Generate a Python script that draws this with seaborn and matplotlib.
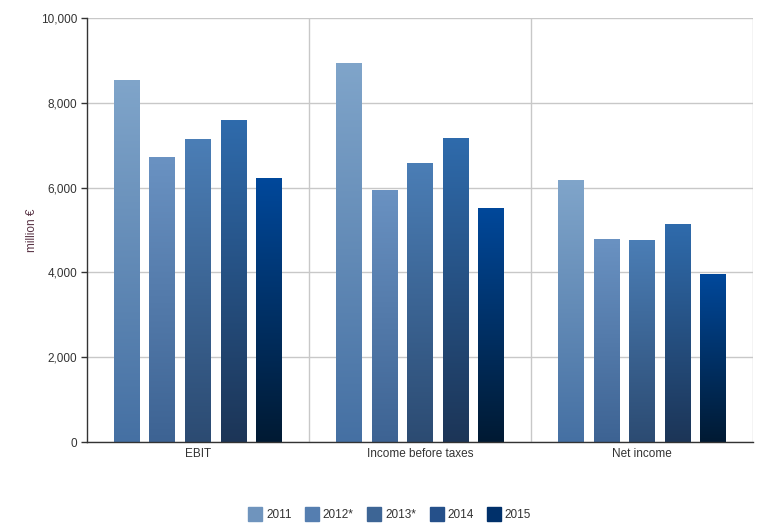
import matplotlib
matplotlib.use("Agg")
import matplotlib.pyplot as plt
from matplotlib.colors import LinearSegmentedColormap
from matplotlib.lines import Line2D
import numpy as np
import pandas as pd
import seaborn as sns

# data
categories = ["EBIT", "Income before taxes", "Net income"]
years = ["2011", "2012*", "2013*", "2014", "2015"]
val_2011 = [8550, 8940, 6170]
val_2012 = [6715, 5950, 4785]
val_2013 = [7140, 6590, 4765]
val_2014 = [7585, 7180, 5140]
val_2015 = [6220, 5530, 3960]

# gradient colours (top, bottom) per year
grad_top = ["#80a5ca", "#6a92c2", "#4b7eb6", "#2f6bac", "#00489b"]
grad_bottom = ["#4570a3", "#3d6393", "#2c4b72", "#1c3557", "#001a33"]

rows = []
for yr, vals in zip(years, [val_2011, val_2012, val_2013, val_2014, val_2015]):
    for cat, v in zip(categories, vals):
        rows.append({"category": cat, "year": yr, "value": v})
df = pd.DataFrame(rows)

sns.set_style("white")
plt.rcParams["font.family"] = ["Liberation Sans", "DejaVu Sans"]

fig = plt.figure(figsize=(7.83, 5.32), dpi=100)
ax = fig.add_axes([0.111, 0.169, 0.851, 0.797])

palette = dict(zip(years, grad_top))
sns.barplot(data=df, x="category", y="value", hue="year", hue_order=years,
            order=categories, palette=palette, width=0.8, gap=0.27,
            errorbar=None, legend=False, ax=ax)

# replace flat fills with vertical gradients
grad = np.linspace(1, 0, 256).reshape(-1, 1)
for i, container in enumerate(ax.containers):
    cmap = LinearSegmentedColormap.from_list(f"g{i}", [grad_bottom[i], grad_top[i]])
    for bar in container:
        x0, y0 = bar.get_x(), bar.get_y()
        w, h = bar.get_width(), bar.get_height()
        bar.set_facecolor("none")
        bar.set_edgecolor("none")
        im = ax.imshow(grad, cmap=cmap, aspect="auto", extent=[x0, x0 + w, y0, y0 + h],
                       origin="upper", zorder=2, vmin=0, vmax=1)
        im.set_clip_path(bar)

ax.set_xlim(-0.5, 2.5)
ax.set_ylim(0, 10000)

ax.set_yticks(range(0, 10001, 2000))
ax.set_yticklabels([f"{v:,}" for v in range(0, 10001, 2000)])
ax.yaxis.grid(True, color="#c8c8c8", linewidth=1)
for xv in [0.5, 1.5, 2.5]:
    ax.axvline(xv, color="#c8c8c8", linewidth=1, zorder=1)
ax.set_axisbelow(True)

for s in ["top", "right"]:
    ax.spines[s].set_visible(False)
for s in ["left", "bottom"]:
    ax.spines[s].set_color("#333333")
    ax.spines[s].set_linewidth(1)

ax.tick_params(axis="y", which="major", length=4, width=1, color="#333333",
               labelsize=8.5, labelcolor="#333333", left=True, pad=3)
ax.tick_params(axis="x", length=0, labelsize=8.5, labelcolor="#333333", pad=4)
ax.set_xlabel("")
ax.set_ylabel("million €", fontsize=8.5, color="#5a3446", labelpad=2)

handles = [Line2D([0], [0], marker="s", linestyle="none", markersize=10,
                  markerfacecolor=c, markeredgecolor=c) for c in
           ["#6f94bd", "#557eb0", "#3d6595", "#25508a", "#00306a"]]
fig.legend(handles, years, loc="center", bbox_to_anchor=(0.497, 0.032), ncol=5,
           frameon=False, fontsize=8.5, handletextpad=0.2, columnspacing=1.05,
           handlelength=1.4, labelcolor="#333333")

fig.savefig("out.png", dpi=100)
